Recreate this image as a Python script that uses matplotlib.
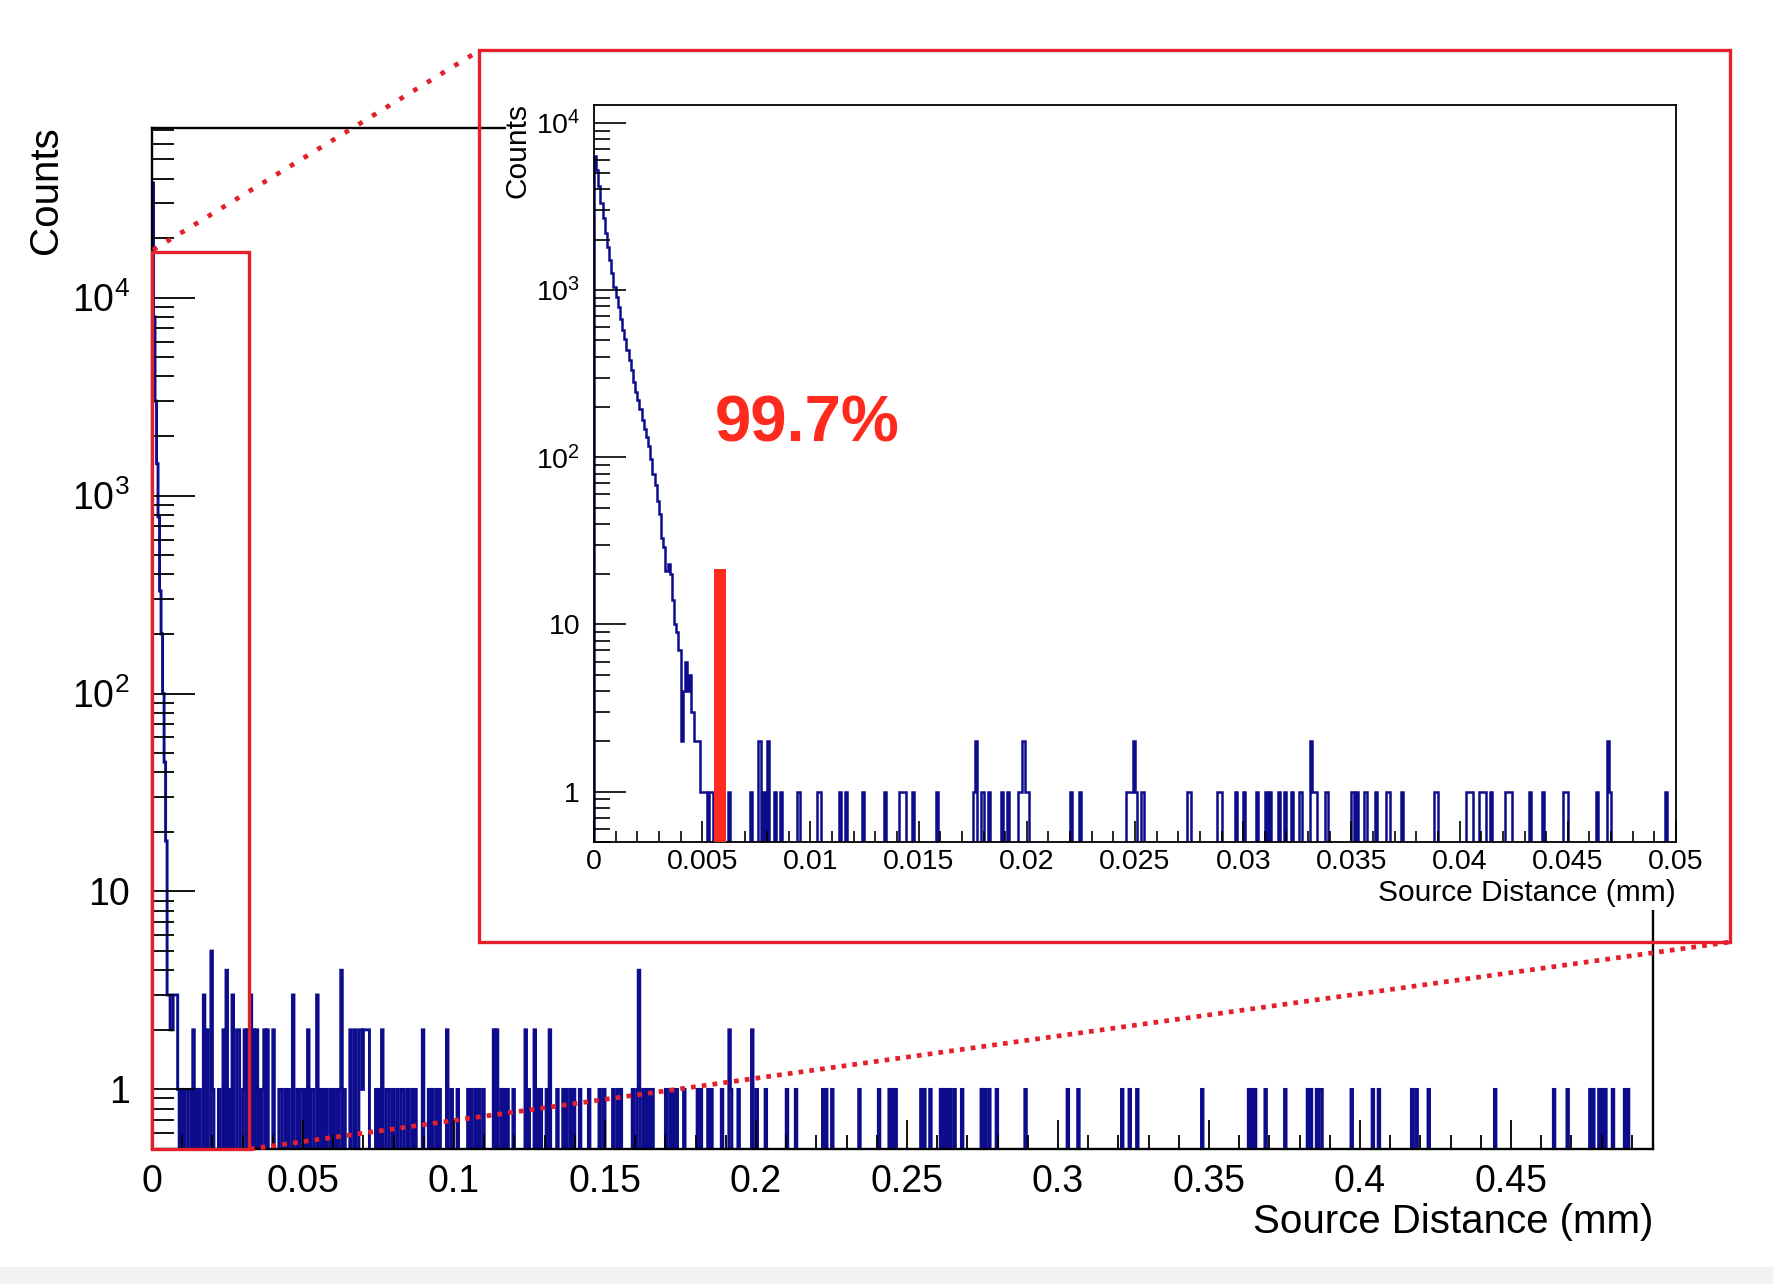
import numpy as np
import matplotlib
matplotlib.use('Agg')
import matplotlib.pyplot as plt
from matplotlib.patches import Rectangle
from matplotlib.lines import Line2D
from matplotlib.ticker import FixedLocator, MultipleLocator, LogLocator, NullFormatter, FuncFormatter

plt.rcParams['font.family'] = ['Liberation Sans', 'DejaVu Sans']
plt.rcParams['mathtext.fontset'] = 'custom'
plt.rcParams['mathtext.rm'] = 'Liberation Sans'

# ---------------- data ----------------
# main histogram: bin width 0.0005 mm, range 0 - 0.497 mm
main_bin_width = 0.0005
main_xmax = 0.497
main_peak_counts = [38000, 8000, 3000, 1450, 780, 330, 200, 100, 45, 18]
main_tail_x = [
    0.0052, 0.0057, 0.0062, 0.0067, 0.0072, 0.0077, 0.0082,
    0.0087, 0.0098, 0.0109, 0.0120, 0.0128, 0.0135, 0.0146, 0.0156,
    0.0170, 0.0183, 0.0195, 0.0203, 0.0220, 0.0236, 0.0247, 0.0256,
    0.0269, 0.0280, 0.0289, 0.0300, 0.0308, 0.0319, 0.0325, 0.0338, 0.0347,
    0.0358, 0.0366, 0.0374, 0.0383, 0.0402, 0.0422, 0.0429, 0.0440, 0.0451,
    0.0466, 0.0481, 0.0490, 0.0499, 0.0508, 0.0518, 0.0525, 0.0534, 0.0545,
    0.0558, 0.0567, 0.0578, 0.0592, 0.0603, 0.0611, 0.0620, 0.0628, 0.0639,
    0.0656, 0.0671, 0.0687, 0.0692, 0.0698, 0.0703, 0.0709, 0.0714, 0.0720,
    0.0742, 0.0751, 0.0764, 0.0775, 0.0784, 0.0799, 0.0810, 0.0825, 0.0834, 0.0849,
    0.0865, 0.0874, 0.0896, 0.0915, 0.0926, 0.0943, 0.0954, 0.0976, 0.0992, 0.1014,
    0.1047, 0.1058, 0.1070, 0.1081, 0.1097, 0.1132, 0.1141, 0.1158, 0.1167, 0.1179, 0.1196,
    0.1235, 0.1249, 0.1266, 0.1279, 0.1288, 0.1307, 0.1318, 0.1340, 0.1364, 0.1373,
    0.1386, 0.1397, 0.1417, 0.1445, 0.1483, 0.1497, 0.1528, 0.1541, 0.1550,
    0.1594, 0.1605, 0.1614, 0.1625, 0.1636, 0.1647, 0.1658,
    0.1704, 0.1715, 0.1726, 0.1738, 0.1760, 0.1805, 0.1818, 0.1842, 0.1853, 0.1886,
    0.1910, 0.1919, 0.1941, 0.1986, 0.2000, 0.2030, 0.2104, 0.2132, 0.2221, 0.2232,
    0.2254, 0.2344, 0.2405, 0.2442, 0.2452, 0.2464, 0.2549, 0.2559, 0.2576, 0.2612,
    0.2622, 0.2634, 0.2642, 0.2659, 0.2681, 0.2747, 0.2758, 0.2772, 0.2799, 0.2890,
    0.3030, 0.3067, 0.3214, 0.3238, 0.3260,
    0.3476, 0.3634, 0.3642, 0.3651, 0.3689, 0.3752, 0.3829, 0.3837, 0.3857, 0.3866,
    0.3874, 0.3970, 0.4042, 0.4061, 0.4171, 0.4186, 0.4226, 0.4445, 0.4640, 0.4690,
    0.4762, 0.4771, 0.4793, 0.4803, 0.4812, 0.4837, 0.4878, 0.4889,
]
main_tail_counts = [
    3, 3, 2, 2, 3, 3, 3,
    1, 1, 1, 1, 1, 2, 1, 1,
    3, 2, 5, 1, 1, 2, 4, 1,
    3, 2, 2, 1, 2, 2, 3, 2, 2,
    1, 1, 2, 2, 2, 1, 1, 1, 1,
    3, 1, 1, 1, 1, 2, 1, 1, 3,
    1, 1, 1, 1, 1, 1, 1, 4, 1,
    2, 2, 2, 2, 1, 2, 2, 2, 2,
    1, 1, 2, 1, 1, 1, 1, 1, 1, 1,
    1, 1, 2, 1, 1, 1, 1, 2, 1, 1,
    1, 1, 1, 1, 1, 2, 2, 1, 1, 1, 1,
    2, 1, 2, 1, 1, 1, 2, 1, 1, 1,
    1, 1, 1, 1, 1, 1, 1, 1, 1,
    1, 1, 4, 1, 1, 1, 1,
    1, 1, 1, 1, 1, 1, 1, 1, 1, 1,
    2, 1, 1, 2, 1, 1, 1, 1, 1, 1,
    1, 1, 1, 1, 1, 1, 1, 1, 1, 1,
    1, 1, 1, 1, 1, 1, 1, 1, 1, 1,
    1, 1, 1, 1, 1,
    1, 1, 1, 1, 1, 1, 1, 1, 1, 1,
    1, 1, 1, 1, 1, 1, 1, 1, 1, 1,
    1, 1, 1, 1, 1, 1, 1, 1,
]

# inset histogram: bin width 0.0001 mm, range 0 - 0.05 mm
inset_bin_width = 0.0001
inset_xmax = 0.05
inset_peak_counts = [
    6300, 5250, 4170, 3310, 2690, 2190, 1820, 1510, 1260, 1050,
    910, 795, 676, 575, 513, 437, 380, 331, 282, 245,
    219, 195, 166, 148, 132, 117, 98, 80, 68, 55,
    46, 33, 29, 21, 23, 20, 14, 10, 9, 7,
    2, 4, 6, 4, 5, 3, 2, 2, 2, 1,
    1, 1, 0, 1, 1,
]
inset_tail_x = [
    0.00565, 0.00595, 0.00625, 0.00725, 0.00765, 0.00785, 0.00805, 0.00835, 0.00865,
    0.00945, 0.01035, 0.01045, 0.01135, 0.01165, 0.01245, 0.01345, 0.01415, 0.01425,
    0.01435, 0.01475, 0.01585, 0.01755, 0.01765, 0.01795, 0.01825, 0.01885, 0.01915,
    0.01965, 0.01975, 0.01985, 0.01995, 0.02005, 0.02205, 0.02245, 0.02465, 0.02475,
    0.02485, 0.02495, 0.02505, 0.02535, 0.02745, 0.02755, 0.02885, 0.02895, 0.02965,
    0.03005, 0.03065, 0.03105, 0.03125, 0.03165, 0.03195, 0.03225, 0.03265, 0.03315,
    0.03325, 0.03335, 0.03385, 0.03505, 0.03525, 0.03565, 0.03615, 0.03665, 0.03675,
    0.03735, 0.03885, 0.03895, 0.04035, 0.04045, 0.04055, 0.04095, 0.04105, 0.04115,
    0.04145, 0.04215, 0.04225, 0.04235, 0.04325, 0.04385, 0.04485, 0.04495, 0.04635,
    0.04685, 0.04695, 0.04955,
]
inset_tail_counts = [
    1, 1, 1, 1, 2, 1, 2, 1, 1,
    1, 1, 1, 1, 1, 1, 1, 1, 1,
    1, 1, 1, 1, 2, 1, 1, 1, 1,
    1, 1, 2, 1, 1, 1, 1, 1, 1,
    1, 2, 1, 1, 1, 1, 1, 1, 1,
    1, 1, 1, 1, 1, 1, 1, 1, 2,
    1, 1, 1, 1, 1, 1, 1, 1, 1,
    1, 1, 1, 1, 1, 1, 1, 1, 1,
    1, 1, 1, 1, 1, 1, 1, 1, 1,
    2, 1, 1,
]

cut_position = 0.00583   # red marker in inset (mm)
cut_height = 21.5
cut_label = "99.7%"

main_xticks = [0, 0.05, 0.1, 0.15, 0.2, 0.25, 0.3, 0.35, 0.4, 0.45]
inset_xticks = [0, 0.005, 0.01, 0.015, 0.02, 0.025, 0.03, 0.035, 0.04, 0.045, 0.05]
yticks = [1, 10, 100, 1000, 10000]
xlabel = "Source Distance (mm)"
ylabel = "Counts"

# ---------------- style ----------------
BLUE = '#0c0c8c'
RED = '#e3202b'
RED2 = '#ff2a1e'
W, H = 1774, 1284
fig = plt.figure(figsize=(W / 100, H / 100), dpi=100)


def fx(px):
    return px / W


def fy(py):
    return 1 - py / H


def box(l, t, r, b):
    return [fx(l), fy(b), fx(r) - fx(l), fy(t) - fy(b)]


def ylab(v, pos):
    if v == 1:
        return "1"
    if v == 10:
        return "10"
    e = int(round(np.log10(v)))
    return r"$\mathregular{10^{%d}}$" % e


FLOOR = 1e-3

# ---------------- main axes ----------------
ax = fig.add_axes(box(152, 128, 1653, 1149), zorder=0)
main_edges = np.arange(0, main_xmax + 1e-9, main_bin_width)
if main_edges[-1] < main_xmax - 1e-9:
    main_edges = np.append(main_edges, main_xmax)
main_vals = np.histogram(main_tail_x, bins=main_edges, weights=main_tail_counts)[0].astype(float)
main_vals[:len(main_peak_counts)] += main_peak_counts
ax.stairs(np.where(main_vals > 0, main_vals, FLOOR), main_edges, baseline=FLOOR,
          color=BLUE, lw=2.1)
ax.set_yscale('log')
ax.set_xlim(0, main_xmax)
ax.set_ylim(0.5, 7.2e4)
ax.xaxis.set_major_locator(FixedLocator(main_xticks))
ax.xaxis.set_major_formatter(FuncFormatter(lambda v, p: f"{round(v, 4):g}"))
ax.xaxis.set_minor_locator(MultipleLocator(0.01))
ax.yaxis.set_major_locator(FixedLocator(yticks))
ax.yaxis.set_major_formatter(FuncFormatter(ylab))
ax.yaxis.set_minor_locator(LogLocator(base=10, subs=np.arange(2, 10), numticks=20))
ax.yaxis.set_minor_formatter(NullFormatter())
ax.tick_params(axis='both', which='both', direction='in', top=False, right=False,
               width=1.3, colors='black', labelsize=27)
ax.tick_params(axis='x', which='major', length=21, pad=11)
ax.tick_params(axis='x', which='minor', length=10)
ax.tick_params(axis='y', which='major', length=31, pad=16)
ax.tick_params(axis='y', which='minor', length=16)
for s in ax.spines.values():
    s.set_linewidth(1.7)

fig.text(fx(1653), fy(1222), xlabel, ha='right', va='center', fontsize=29)
fig.text(fx(46), fy(126), ylabel, ha='center', va='top', rotation=90, fontsize=29)

# ---------------- inset ----------------
fig.add_artist(Rectangle((fx(506), fy(910)), fx(1700) - fx(506), fy(40) - fy(910),
                         transform=fig.transFigure, facecolor='white', edgecolor='none',
                         zorder=1))

ax_in = fig.add_axes(box(594, 105, 1676, 842), zorder=2)
inset_edges = np.linspace(0, inset_xmax, int(round(inset_xmax / inset_bin_width)) + 1)
inset_vals = np.histogram(inset_tail_x, bins=inset_edges, weights=inset_tail_counts)[0].astype(float)
inset_vals[:len(inset_peak_counts)] += inset_peak_counts
ax_in.stairs(np.where(inset_vals > 0, inset_vals, FLOOR), inset_edges, baseline=FLOOR,
             color=BLUE, lw=1.8)
ax_in.set_yscale('log')
ax_in.set_xlim(0, inset_xmax)
ax_in.set_ylim(0.5, 1.28e4)
ax_in.plot([cut_position, cut_position], [0.5, cut_height], color=RED2, lw=8.6,
           solid_capstyle='butt', zorder=5, clip_on=False)
ax_in.text(cut_position - 0.00025, 124, cut_label, color=RED2, fontsize=47,
           fontweight='bold', ha='left', va='baseline')
ax_in.xaxis.set_major_locator(FixedLocator(inset_xticks))
ax_in.xaxis.set_major_formatter(FuncFormatter(lambda v, p: f"{round(v, 4):g}"))
ax_in.xaxis.set_minor_locator(MultipleLocator(0.001))
ax_in.yaxis.set_major_locator(FixedLocator(yticks))
ax_in.yaxis.set_major_formatter(FuncFormatter(ylab))
ax_in.yaxis.set_minor_locator(LogLocator(base=10, subs=np.arange(2, 10), numticks=20))
ax_in.yaxis.set_minor_formatter(NullFormatter())
ax_in.tick_params(axis='both', which='both', direction='in', top=False, right=False,
                  width=1.2, colors='black', labelsize=20.5)
ax_in.tick_params(axis='x', which='major', length=15, pad=5)
ax_in.tick_params(axis='x', which='minor', length=8)
ax_in.tick_params(axis='y', which='major', length=23, pad=10)
ax_in.tick_params(axis='y', which='minor', length=11.5)
for s in ax_in.spines.values():
    s.set_linewidth(1.3)

fig.text(fx(1676), fy(893), xlabel, ha='right', va='center', fontsize=21.5, zorder=3)
fig.text(fx(518), fy(103), ylabel, ha='center', va='top', rotation=90, fontsize=21.5,
         zorder=3)

# ---------------- zoom annotations ----------------
fig.add_artist(Rectangle((fx(479), fy(942)), fx(1730) - fx(479), fy(50) - fy(942),
                         transform=fig.transFigure, fill=False, edgecolor=RED, lw=2.4,
                         zorder=3))
fig.add_artist(Rectangle((fx(152), fy(1149)), fx(249) - fx(152), fy(252) - fy(1149),
                         transform=fig.transFigure, fill=False, edgecolor=RED, lw=2.4,
                         zorder=3))
fig.add_artist(Line2D([fx(153), fx(477)], [fy(250), fy(52)], transform=fig.transFigure,
                      color=RED, lw=3.4, ls=(0, (1, 2.4)), zorder=3))
fig.add_artist(Line2D([fx(250), fx(1730)], [fy(1149), fy(942)], transform=fig.transFigure,
                      color=RED, lw=3.4, ls=(0, (1, 1.3)), zorder=3))

# light grey strip at the bottom edge
fig.add_artist(Rectangle((0, 0), 1, 17 / H, transform=fig.transFigure,
                         facecolor='#f2f2f2', edgecolor='none', zorder=0.5))

fig.savefig('out.png', dpi=100)
